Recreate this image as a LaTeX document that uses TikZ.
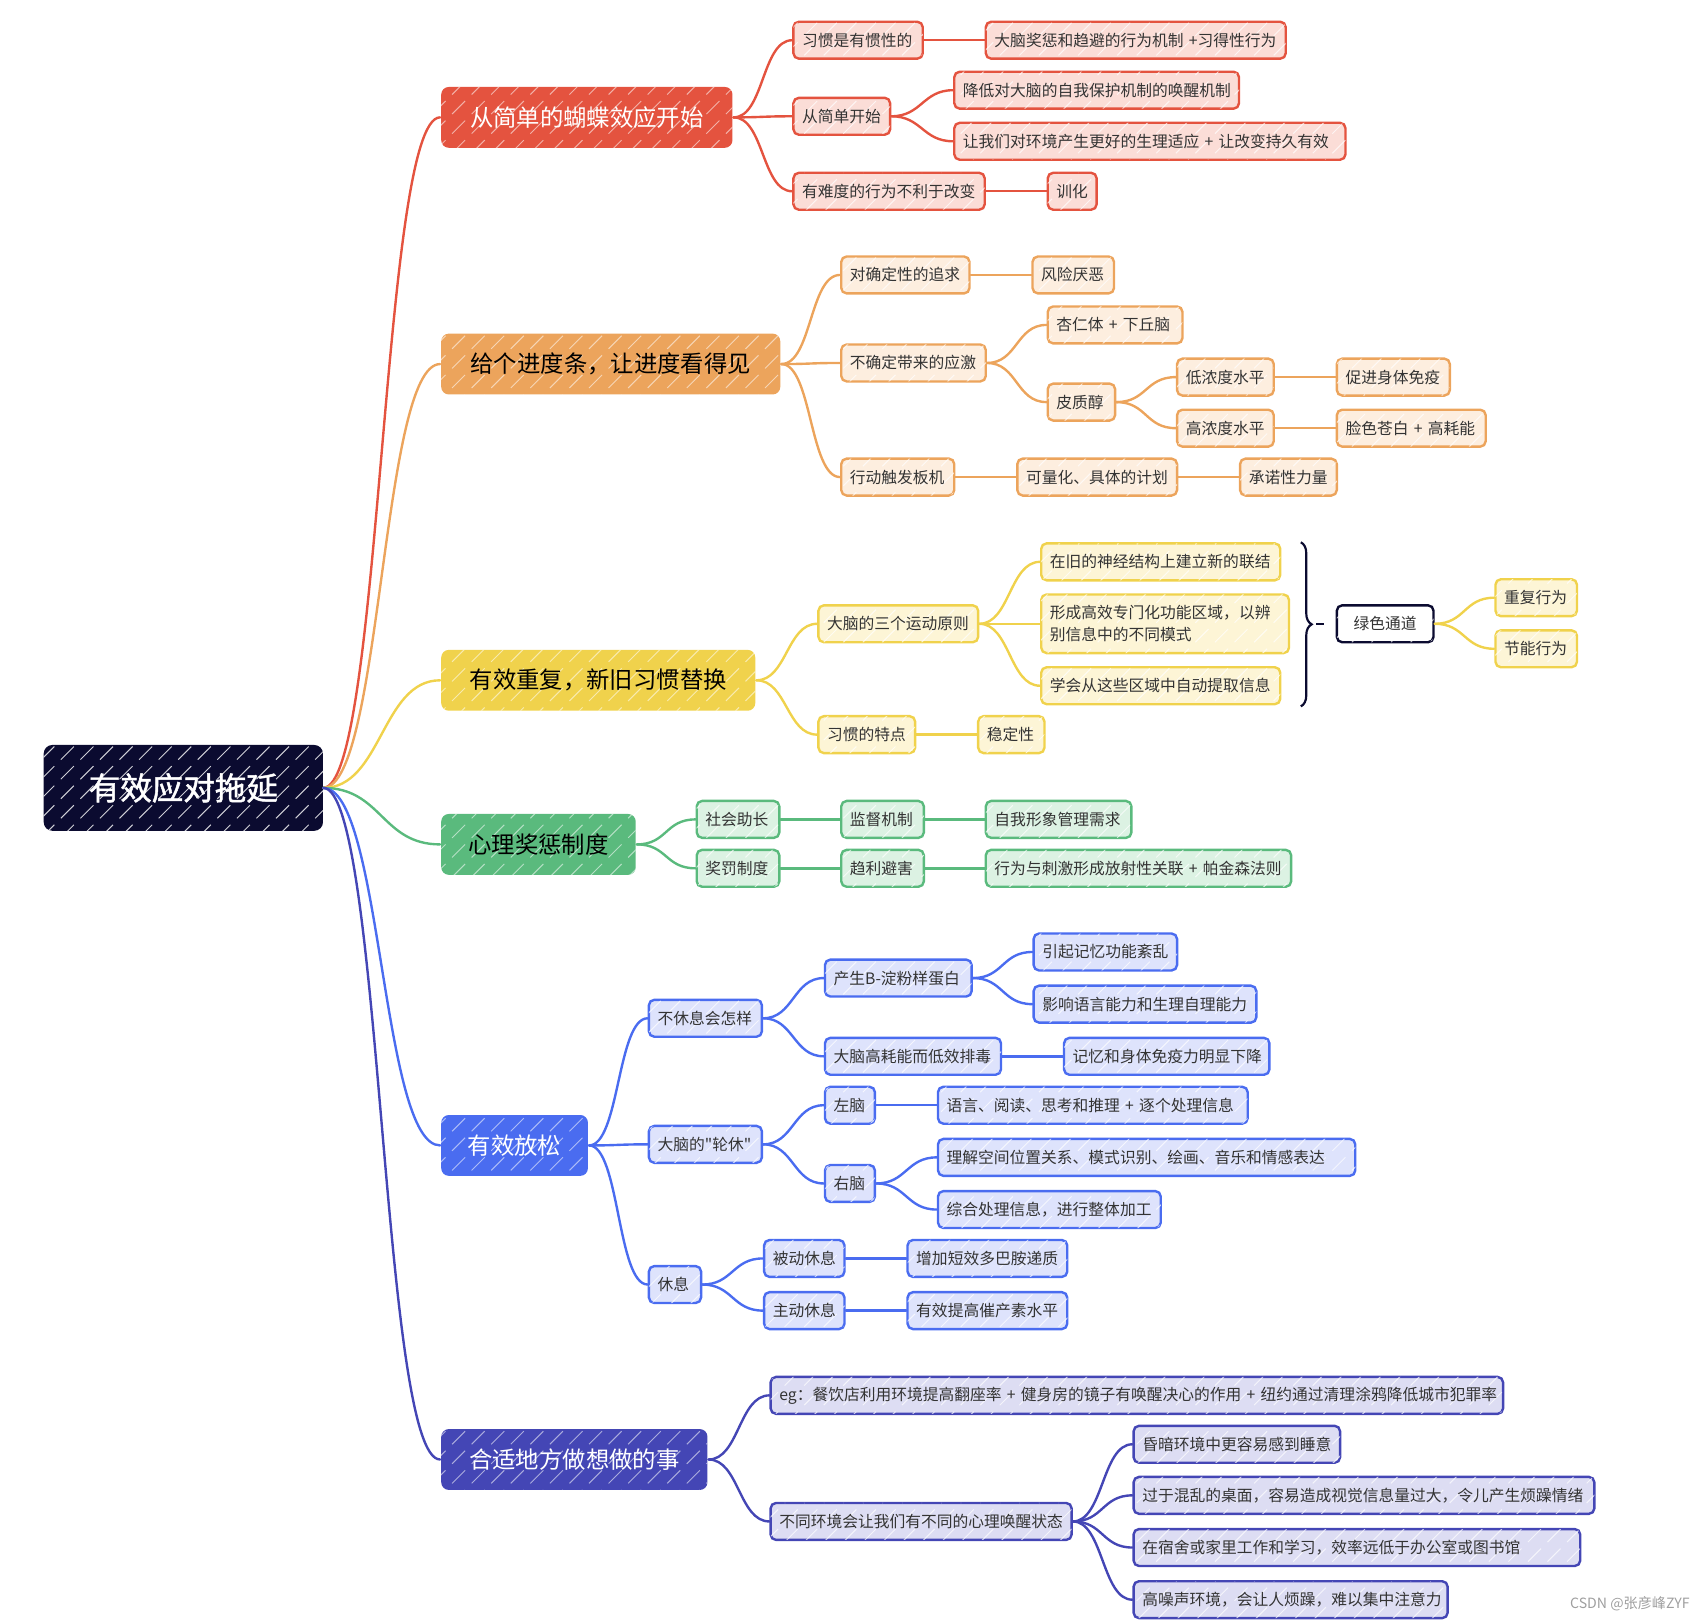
\documentclass[tikz,border=0pt]{standalone}
\usepackage{fontspec}
\setmainfont{Noto Sans CJK SC}[Ligatures=TeXOff]
\newfontfamily\rootfont{Noto Sans CJK SC}[FakeBold=1.5]
\usetikzlibrary{decorations.pathreplacing,patterns.meta}
\definecolor{cRoot}{HTML}{0B0B30}
\definecolor{cR}{HTML}{E4533F}\definecolor{cRl}{HTML}{FBDDD7}
\definecolor{cO}{HTML}{ECA45C}\definecolor{cOl}{HTML}{FDEEDF}
\definecolor{cY}{HTML}{F0D24C}\definecolor{cYl}{HTML}{FDF5D6}
\definecolor{cG}{HTML}{5ABA7D}\definecolor{cGl}{HTML}{DCF2E3}
\definecolor{cB}{HTML}{4A6CF0}\definecolor{cBl}{HTML}{DEE3FC}
\definecolor{cI}{HTML}{4446B5}\definecolor{cIl}{HTML}{DDDDF3}
\definecolor{txt}{HTML}{333333}
\tikzdeclarepattern{
  name=sketch,
  type=uncolored,
  bounding box={(-1pt,-1pt) and (19pt,19pt)},
  tile size={(18pt,18pt)},
  code={\pgfsetlinewidth{0.9pt}\pgfpathmoveto{\pgfpoint{2pt}{2pt}}\pgfpathlineto{\pgfpoint{14pt}{14pt}}\pgfusepath{stroke}}
}
\newcommand\cn[4][28]{\draw[#2, edge] (#3.east) .. controls +(#1,0) and +(-#1,0) .. (#4.west);}
\begin{document}
\begin{tikzpicture}[x=1pt,y=-1pt,
  edge/.style={line width=2.2pt, line cap=round},
  hatch/.style={postaction={pattern=sketch, pattern color=white, opacity=#1}},
  hatch/.default=0.55,
  sbox/.style={draw, line width=2.2pt, rounded corners=5pt, anchor=west, minimum height=34pt,
     inner xsep=8pt, inner ysep=0pt, text=txt, font=\fontsize{14.5}{20}\selectfont, align=left, hatch=0.7},
  w/.code={\pgfmathsetmacro\tw{#1-16}\tikzset{text width=\tw pt}},
  mbox/.style={line width=2pt, rounded corners=7pt, anchor=west, minimum height=56pt,
     inner xsep=10pt, inner ysep=0pt, font=\fontsize{21.5}{24}\selectfont, hatch},
  sR/.style={sbox, draw=cR, fill=cRl},
  sO/.style={sbox, draw=cO, fill=cOl},
  sY/.style={sbox, draw=cY, fill=cYl},
  sG/.style={sbox, draw=cG, fill=cGl},
  sB/.style={sbox, draw=cB, fill=cBl},
  sI/.style={sbox, draw=cI, fill=cIl},
]
\useasboundingbox (0,0) rectangle (1568,1493);
% root
\node[rounded corners=8pt, anchor=west, fill=cRoot, text=white, minimum width=257, minimum height=79,
  font=\rootfont\fontsize{29}{32}\selectfont, hatch=0.8] (root) at (40,725) {有效应对拖延};
% main branches
\node[mbox, fill=cR, text=white, minimum width=268] (R) at (405,108) {从简单的蝴蝶效应开始};
\node[mbox, fill=cO, text=black, minimum width=312] (O) at (405,335) {给个进度条，让进度看得见};
\node[mbox, fill=cY, text=black, minimum width=289] (Y) at (405,626) {有效重复，新旧习惯替换};
\node[mbox, fill=cG, text=black, minimum width=179] (G) at (405,777) {心理奖惩制度};
\node[mbox, fill=cB, text=white, minimum width=135] (B) at (405,1054) {有效放松};
\node[mbox, fill=cI, text=white, minimum width=245] (I) at (405,1343) {合适地方做想做的事};
\cn[54]{cR}{root}{R}
\cn[54]{cO}{root}{O}
\cn[54]{cY}{root}{Y}
\cn[54]{cG}{root}{G}
\cn[54]{cB}{root}{B}
\cn[54]{cI}{root}{I}
% red
\node[sR, w=119] (R1) at (729,37) {习惯是有惯性的};
\node[sR, w=276] (R11) at (906,37) {大脑奖惩和趋避的行为机制 +习得性行为};
\node[sR, w=89] (R2) at (729,107) {从简单开始};
\node[sR, w=262] (R21) at (877,83) {降低对大脑的自我保护机制的唤醒机制};
\node[sR, w=360] (R22) at (877,130) {让我们对环境产生更好的生理适应 + 让改变持久有效};
\node[sR, w=176] (R3) at (729,176) {有难度的行为不利于改变};
\node[sR, w=45] (R31) at (963,176) {训化};
\cn{cR}{R}{R1}\cn{cR}{R1}{R11}\cn{cR}{R}{R2}\cn{cR}{R2}{R21}\cn{cR}{R2}{R22}
\cn{cR}{R}{R3}\cn{cR}{R3}{R31}
% orange
\node[sO, w=118] (O1) at (773,253) {对确定性的追求};
\node[sO, w=75] (O11) at (949,253) {风险厌恶};
\node[sO, w=133] (O2) at (773,334) {不确定带来的应激};
\node[sO, w=124] (O21) at (963,299) {杏仁体 + 下丘脑};
\node[sO, w=62] (O22) at (963,370) {皮质醇};
\node[sO, w=89] (O221) at (1082,347) {低浓度水平};
\node[sO, w=104] (O2211) at (1229,347) {促进身体免疫};
\node[sO, w=89] (O222) at (1082,394) {高浓度水平};
\node[sO, w=137] (O2221) at (1229,394) {脸色苍白 + 高耗能};
\node[sO, w=104] (O3) at (773,439) {行动触发板机};
\node[sO, w=147] (O31) at (935,439) {可量化、具体的计划};
\node[sO, w=89] (O311) at (1140,439) {承诺性力量};
\cn{cO}{O}{O1}\cn{cO}{O1}{O11}\cn{cO}{O}{O2}\cn{cO}{O2}{O21}\cn{cO}{O2}{O22}
\cn{cO}{O22}{O221}\cn{cO}{O221}{O2211}\cn{cO}{O22}{O222}\cn{cO}{O222}{O2221}
\cn{cO}{O}{O3}\cn{cO}{O3}{O31}\cn{cO}{O31}{O311}
% yellow
\node[sY, w=147] (Y1) at (752,574) {大脑的三个运动原则};
\node[sY, w=220] (Y11) at (957,517) {在旧的神经结构上建立新的联结};
\node[sY, w=228, minimum height=54] (Y12) at (957,574) {形成高效专门化功能区域，以辨\\别信息中的不同模式};
\node[sY, w=220] (Y13) at (957,631) {学会从这些区域中自动提取信息};
\node[sbox, draw=cRoot, fill=white, w=89, align=center] (GC) at (1229,574) {绿色通道};
\node[sY, w=75] (GC1) at (1375,550) {重复行为};
\node[sY, w=75] (GC2) at (1375,597) {节能行为};
\node[sY, w=89] (Y2) at (752,676) {习惯的特点};
\node[sY, w=61] (Y21) at (899,676) {稳定性};
\cn{cY}{Y}{Y1}\cn{cY}{Y1}{Y11}\cn{cY}{Y1}{Y12}\cn{cY}{Y1}{Y13}
\cn{cY}{GC}{GC1}\cn{cY}{GC}{GC2}\cn{cY}{Y}{Y2}\cn{cY}{Y2}{Y21}
\coordinate (bt) at (1197,499);
\coordinate (bb) at (1197,650);
\draw[cRoot, line width=2pt, decorate, decoration={brace, amplitude=10pt}] (bt) -- (bb);
\coordinate (d1) at (1211,574);
\coordinate (d2) at (1218,574);
\draw[cRoot, line width=2pt] (d1) -- (d2);
% green
\node[sG, w=76] (G1) at (640,754) {社会助长};
\node[sG, w=76] (G11) at (773,754) {监督机制};
\node[sG, w=134] (G111) at (906,754) {自我形象管理需求};
\node[sG, w=281] (G211) at (906,799) {行为与刺激形成放射性关联 + 帕金森法则};
\node[sG, w=76] (G2) at (640,799) {奖罚制度};
\node[sG, w=76] (G21) at (773,799) {趋利避害};
\cn{cG}{G}{G1}\cn{cG}{G1}{G11}\cn{cG}{G11}{G111}\cn{cG}{G}{G2}\cn{cG}{G2}{G21}\cn{cG}{G21}{G211}
% blue
\node[sB, w=104] (B1) at (596,937) {不休息会怎样};
\node[sB, w=135] (B11) at (758,900) {产生B-淀粉样蛋白};
\node[sB, w=132] (B111) at (950,876) {引起记忆功能紊乱};
\node[sB, w=205] (B112) at (950,924) {影响语言能力和生理自理能力};
\node[sB, w=162] (B12) at (758,972) {大脑高耗能而低效排毒};
\node[sB, w=189] (B121) at (978,972) {记忆和身体免疫力明显下降};
\node[sB, w=104] (B2) at (596,1053) {大脑的"轮休"};
\node[sB, w=46] (B21) at (758,1017) {左脑};
\node[sB, w=285] (B211) at (862,1017) {语言、阅读、思考和推理 + 逐个处理信息};
\node[sB, w=46] (B22) at (758,1089) {右脑};
\node[sB, w=384] (B221) at (862,1065) {理解空间位置关系、模式识别、绘画、音乐和情感表达};
\node[sB, w=205] (B222) at (862,1113) {综合处理信息，进行整体加工};
\node[sB, w=48] (B3) at (596,1182) {休息};
\node[sB, w=74] (B31) at (702,1158) {被动休息};
\node[sB, w=147] (B311) at (834,1158) {增加短效多巴胺递质};
\node[sB, w=74] (B32) at (702,1206) {主动休息};
\node[sB, w=147] (B321) at (834,1206) {有效提高催产素水平};
\cn{cB}{B}{B1}\cn{cB}{B1}{B11}\cn{cB}{B11}{B111}\cn{cB}{B11}{B112}\cn{cB}{B1}{B12}\cn{cB}{B12}{B121}
\cn{cB}{B}{B2}\cn{cB}{B2}{B21}\cn{cB}{B21}{B211}\cn{cB}{B2}{B22}\cn{cB}{B22}{B221}\cn{cB}{B22}{B222}
\cn{cB}{B}{B3}\cn{cB}{B3}{B31}\cn{cB}{B31}{B311}\cn{cB}{B3}{B32}\cn{cB}{B32}{B321}
% indigo
\node[sI, w=674] (I1) at (708,1284) {\mbox{eg：餐饮店利用环境提高翻座率 + 健身房的镜子有唤醒决心的作用 + 纽约通过清理涂鸦降低城市犯罪率}};
\node[sI, w=277] (I2) at (708,1400) {不同环境会让我们有不同的心理唤醒状态};
\node[sI, w=190] (I21) at (1042,1329) {昏暗环境中更容易感到睡意};
\node[sI, w=424] (I22) at (1042,1376) {过于混乱的桌面，容易造成视觉信息量过大，令儿产生烦躁情绪};
\node[sI, w=411] (I23) at (1042,1424) {在宿舍或家里工作和学习，效率远低于办公室或图书馆};
\node[sI, w=289] (I24) at (1042,1472) {高噪声环境，会让人烦躁，难以集中注意力};
\cn{cI}{I}{I1}\cn{cI}{I}{I2}\cn{cI}{I2}{I21}\cn{cI}{I2}{I22}\cn{cI}{I2}{I23}\cn{cI}{I2}{I24}
% watermark
\node[anchor=east, text=gray!75, font=\fontsize{13}{15}\selectfont, inner sep=0pt] (wm) at (1555,1476) {CSDN @张彦峰ZYF};
\end{tikzpicture}
\end{document}
